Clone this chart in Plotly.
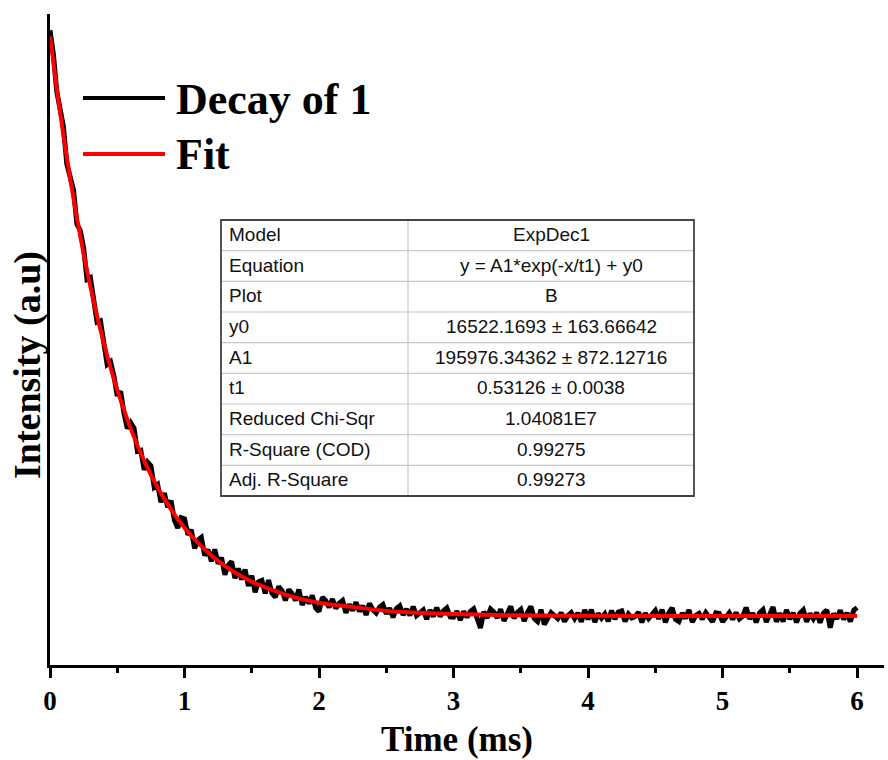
import plotly.graph_objects as go

# ---------------- data ----------------
time_step = 0.025  # ms between decay samples
decay_intensity = [  # thousands of counts
    214.5, 206.5, 193.9, 188.7, 181.9, 169.4, 165.3, 160.5, 149.0, 146.8,
    140.9, 130.3, 130.9, 123.8, 115.9, 116.3, 107.8, 101.6, 102.5, 97.7,
    91.0, 92.5, 85.1, 79.9, 81.9, 80.0, 72.2, 72.5, 66.0, 68.6,
    67.3, 60.1, 61.0, 55.0, 58.1, 53.3, 55.5, 48.9, 46.3, 49.8,
    49.4, 44.0, 45.7, 39.4, 42.2, 43.1, 37.0, 39.0, 35.0, 39.1,
    34.2, 36.3, 30.5, 33.7, 35.0, 29.3, 32.6, 28.9, 32.3, 26.7,
    30.2, 24.6, 28.1, 28.6, 24.2, 28.7, 24.3, 22.9, 26.5, 25.1,
    21.8, 25.5, 24.1, 21.8, 25.5, 20.3, 23.0, 20.8, 23.5, 19.3,
    18.1, 22.9, 21.7, 19.5, 22.3, 19.1, 20.9, 21.8, 17.6, 20.5,
    18.4, 21.2, 18.1, 20.0, 16.9, 20.8, 18.7, 17.6, 19.5, 20.4,
    17.3, 19.2, 16.1, 19.1, 20.0, 16.9, 18.9, 16.8, 19.7, 16.7,
    17.6, 18.6, 15.5, 18.5, 16.4, 19.4, 16.4, 18.3, 19.3, 16.3,
    16.2, 18.2, 15.2, 18.1, 16.1, 18.1, 19.0, 16.0, 12.5, 18.0,
    15.9, 18.9, 17.9, 15.9, 18.9, 14.9, 17.8, 19.8, 15.8, 17.8,
    18.8, 14.8, 17.8, 19.8, 15.7, 14.7, 18.7, 13.7, 15.7, 17.7,
    16.7, 15.7, 17.7, 14.7, 16.7, 17.7, 15.7, 17.6, 14.6, 18.6,
    15.4, 18.7, 14.5, 17.4, 15.8, 17.3, 14.8, 18.4, 15.5, 17.9,
    18.3, 14.7, 17.2, 15.9, 16.4, 17.8, 14.4, 17.5, 15.7, 17.3,
    18.4, 15.6, 18.7, 14.4, 17.6, 19.3, 15.4, 14.7, 17.5, 15.8,
    18.6, 14.5, 16.7, 17.4, 15.5, 17.7, 16.3, 14.6, 17.6, 17.4,
    14.6, 16.4, 17.6, 15.4, 17.7, 15.6, 16.5, 19.4, 15.6, 17.5,
    14.4, 17.6, 18.7, 14.5, 17.4, 19.6, 14.6, 17.5, 14.7, 18.6,
    15.5, 17.6, 14.4, 17.5, 18.6, 14.6, 17.4, 15.6, 17.7, 14.3,
    17.5, 18.6, 12.6, 17.4, 15.6, 18.5, 15.4, 17.6, 14.7, 18.5,
    19.4,
]
decay_time = [round(i * time_step, 3) for i in range(len(decay_intensity))]

fit_time = [0.0, 0.05, 0.1, 0.15, 0.2, 0.25, 0.3, 0.35, 0.4, 0.45, 0.5,
            0.6, 0.7, 0.8, 0.9, 1.0, 1.1, 1.2, 1.3, 1.4, 1.5, 1.75,
            2.0, 2.25, 2.5, 2.75, 3.0, 3.5, 4.0, 4.5, 5.0, 5.5, 6.0]
fit_intensity = [212.50, 194.89, 178.87, 164.29, 151.02, 138.94, 127.94, 117.93,
                 108.82, 100.53, 92.99, 79.87, 69.00, 59.99, 52.54, 46.36,
                 41.24, 37.00, 33.48, 30.57, 28.16, 23.79, 21.06, 19.64,
                 18.29, 17.62, 17.21, 16.79, 16.63, 16.56, 16.54, 16.53, 16.52]

legend_names = ["Decay of 1", "Fit"]
legend_colors = ["#000000", "#ff0000"]

table_labels = ["Model", "Equation", "Plot", "y0", "A1", "t1",
                "Reduced Chi-Sqr", "R-Square (COD)", "Adj. R-Square"]
table_values = ["ExpDec1", "y = A1*exp(-x/t1) + y0", "B",
                "16522.1693 ± 163.66642", "195976.34362 ± 872.12716",
                "0.53126 ± 0.0038", "1.04081E7", "0.99275", "0.99273"]

x_ticks = [0, 1, 2, 3, 4, 5, 6]

# ---------------- layout geometry (pixels) ----------------
W, H = 888, 760
ML, MR, MT, MB = 50, 4, 14, 95
PW, PH = W - ML - MR, H - MT - MB


def px(x):
    return (x - ML) / PW


def py(y):
    return (H - MB - y) / PH


SERIF = "Liberation Serif"
SANS = "Liberation Sans"

fig = go.Figure()
fig.add_trace(go.Scatter(x=decay_time, y=decay_intensity, mode="lines",
                         line=dict(color=legend_colors[0], width=5),
                         name=legend_names[0], showlegend=False))
fig.add_trace(go.Scatter(x=fit_time, y=fit_intensity, mode="lines",
                         line=dict(color=legend_colors[1], width=4, shape="spline"),
                         name=legend_names[1], showlegend=False))

shapes = []
annotations = []

# legend drawn manually
leg_y = [98, 154]
for name, col, yy in zip(legend_names, legend_colors, leg_y):
    shapes.append(dict(type="line", xref="paper", yref="paper",
                       x0=px(83), x1=px(165), y0=py(yy), y1=py(yy),
                       line=dict(color=col, width=4)))
    annotations.append(dict(xref="paper", yref="paper", x=px(174), y=py(yy + 1),
                            xanchor="left", yanchor="middle", showarrow=False,
                            text=name,
                            font=dict(family=SERIF, size=44, color="black", weight="bold")))

# results table
T_L, T_R, T_T, T_B, T_SPLIT = 221, 694, 220, 496, 408
n = len(table_labels)
rh = (T_B - T_T) / n
for i in range(1, n):
    yy = T_T + i * rh
    shapes.append(dict(type="line", xref="paper", yref="paper",
                       x0=px(T_L), x1=px(T_R), y0=py(yy), y1=py(yy),
                       line=dict(color="#c8c8c8", width=1.2)))
shapes.append(dict(type="line", xref="paper", yref="paper",
                   x0=px(T_SPLIT), x1=px(T_SPLIT), y0=py(T_T), y1=py(T_B),
                   line=dict(color="#c8c8c8", width=1.2)))
shapes.append(dict(type="rect", xref="paper", yref="paper",
                   x0=px(T_L), x1=px(T_R), y0=py(T_T), y1=py(T_B),
                   line=dict(color="#444444", width=1.8), fillcolor="rgba(0,0,0,0)"))
for i, (lab, val) in enumerate(zip(table_labels, table_values)):
    yc = T_T + (i + 0.5) * rh - 1
    annotations.append(dict(xref="paper", yref="paper", x=px(T_L + 6), y=py(yc),
                            xanchor="left", yanchor="middle", showarrow=False,
                            text=lab, font=dict(family=SANS, size=19, color="#111111")))
    annotations.append(dict(xref="paper", yref="paper", x=px((T_SPLIT + T_R) / 2), y=py(yc),
                            xanchor="center", yanchor="middle", showarrow=False,
                            text=val, font=dict(family=SANS, size=19, color="#111111")))

# axis titles
annotations.append(dict(xref="paper", yref="paper", x=px(457), y=py(739),
                        xanchor="center", yanchor="middle", showarrow=False,
                        text="Time (ms)",
                        font=dict(family=SERIF, size=35, color="black", weight="bold")))
annotations.append(dict(xref="paper", yref="paper", x=px(27), y=py(365),
                        xanchor="center", yanchor="middle", showarrow=False,
                        text="Intensity (a.u)", textangle=-90,
                        font=dict(family=SERIF, size=38, color="black", weight="bold")))

fig.update_layout(
    width=W, height=H,
    margin=dict(l=ML, r=MR, t=MT, b=MB),
    paper_bgcolor="white", plot_bgcolor="white",
    shapes=shapes, annotations=annotations,
    showlegend=False,
    xaxis=dict(range=[0, 6.2], showline=True, linecolor="black", linewidth=2.5,
               ticks="outside", ticklen=10, tickwidth=2.5, tickcolor="black",
               tickvals=x_ticks, ticktext=[str(t) for t in x_ticks],
               tickfont=dict(family=SERIF, size=27, color="black", weight="bold"),
               minor=dict(dtick=0.5, tick0=0, ticks="outside", ticklen=5,
                          tickwidth=2.5, tickcolor="black"),
               showgrid=False, zeroline=False, fixedrange=True),
    yaxis=dict(range=[0, 220], showline=True, linecolor="black", linewidth=2.5,
               ticks="", showticklabels=False, showgrid=False, zeroline=False,
               fixedrange=True),
)

fig.write_html("out.html")
